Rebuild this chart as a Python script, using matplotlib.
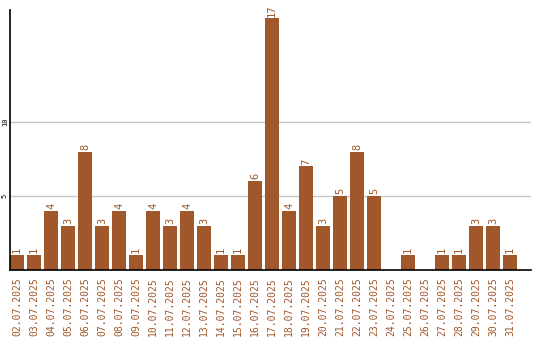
import matplotlib
matplotlib.use("Agg")
import matplotlib.pyplot as plt

dates = ["%02d.07.2025" % d for d in range(2, 32)]
counts = [1, 1, 4, 3, 8, 3, 4, 1, 4, 3, 4, 3, 1, 1, 6, 17, 4, 7, 3, 5, 8, 5,
          0, 1, 0, 1, 1, 3, 3, 1]

BAR = "#A0572A"

fig = plt.figure(figsize=(5.4, 3.4), dpi=100)
ax = fig.add_axes([10 / 540, 70 / 340, 521 / 540, 260 / 340])

x = range(len(dates))
ax.bar(x, counts, width=0.82, color=BAR, zorder=2)

for i, v in enumerate(counts):
    if v > 0:
        ax.text(i, v + 0.12, str(v), rotation=90, ha="center", va="bottom",
                color=BAR, fontsize=7.5, family="DejaVu Sans Mono")

ax.set_xlim(-0.41, 30.24)
ax.set_ylim(0, 17.57)
ax.set_yticks([5, 10])
ax.set_yticklabels(["5", "10"], rotation=90, va="center", fontsize=5,
                   family="DejaVu Sans Mono")
ax.yaxis.grid(True, color="#c8c8c8", linewidth=1, zorder=0)
ax.tick_params(axis="y", length=0, pad=1.5)

ax.set_xticks(list(x))
ax.set_xticklabels(dates, rotation=90, color=BAR, fontsize=7,
                   family="DejaVu Sans Mono")
ax.tick_params(axis="x", length=0, pad=5)

for s in ["top", "right"]:
    ax.spines[s].set_visible(False)
ax.spines["left"].set_linewidth(1.2)
ax.spines["bottom"].set_linewidth(1.2)

fig.savefig("out.png", dpi=100)
